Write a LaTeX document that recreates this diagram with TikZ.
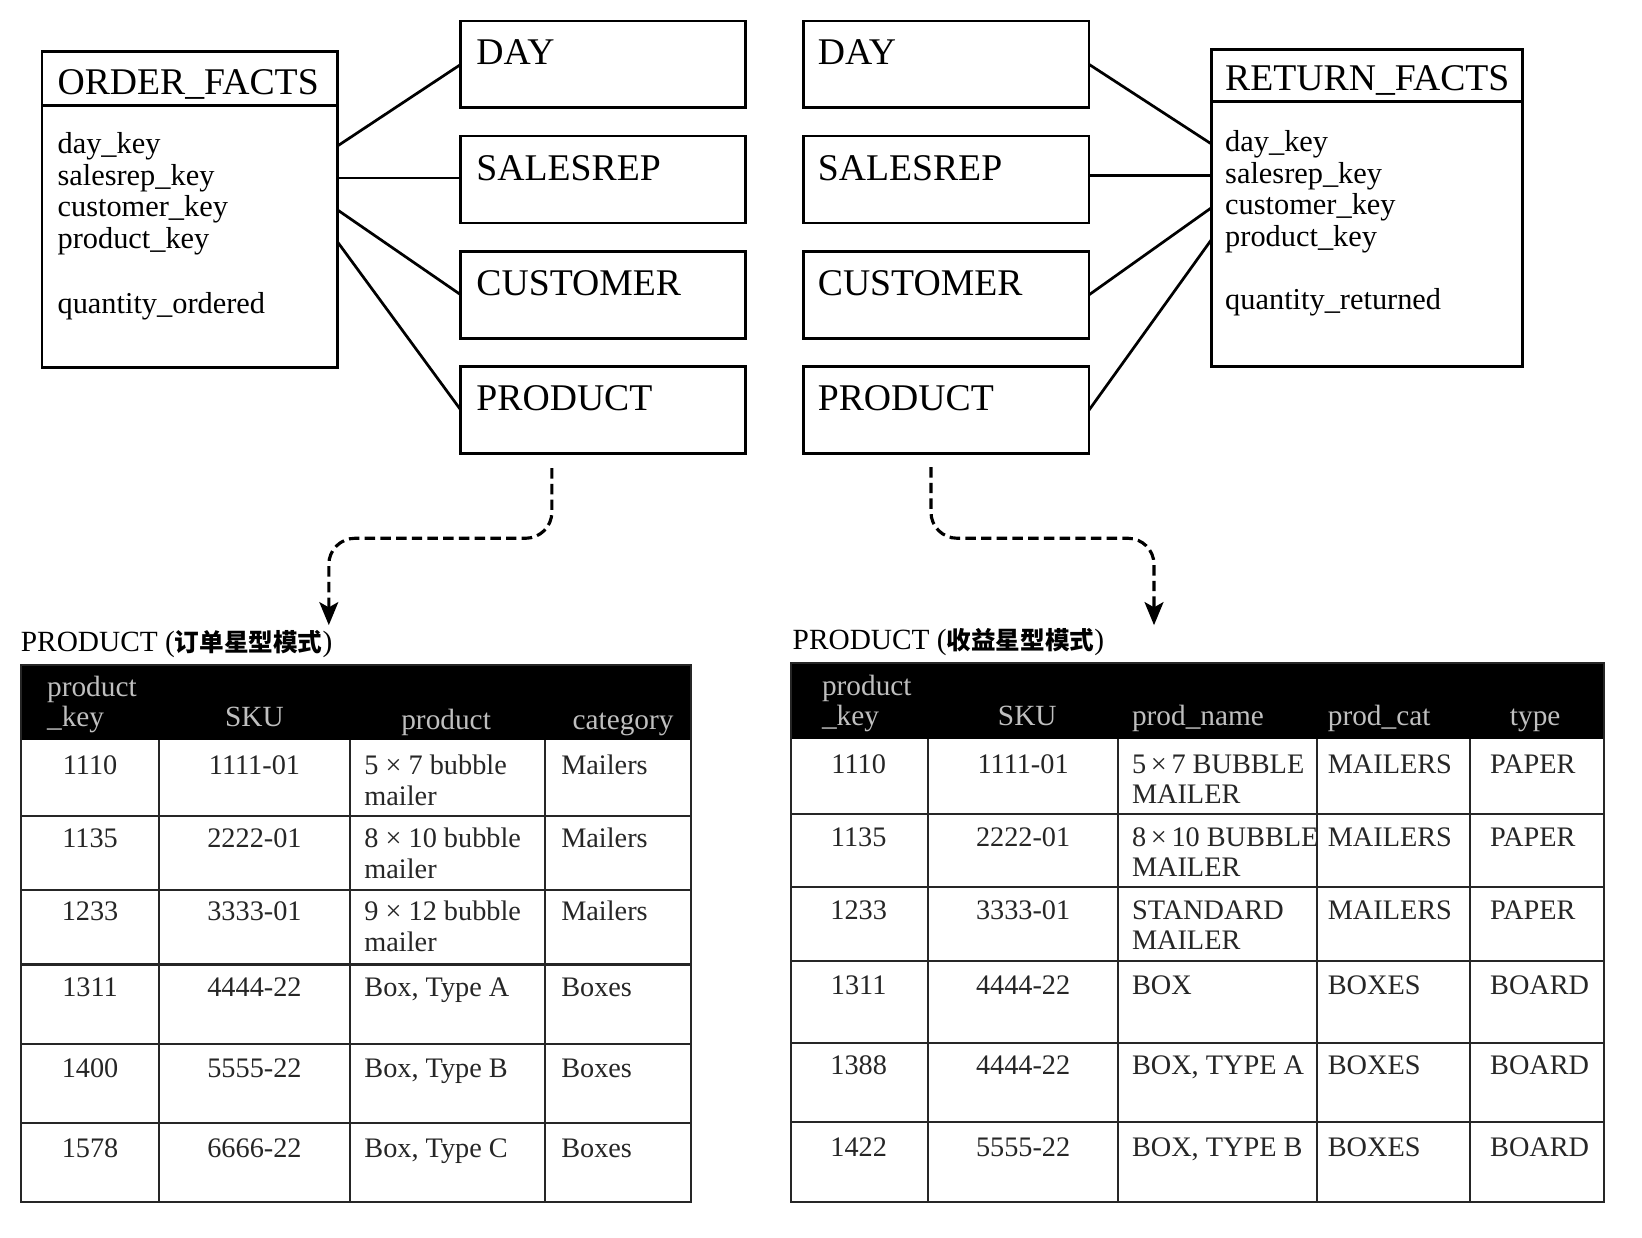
\documentclass[tikz,border=0pt]{standalone}
\usepackage{fontspec}
\setmainfont{Liberation Serif}
\newfontfamily\cjk{Noto Sans CJK SC}
\usetikzlibrary{arrows.meta}
\begin{document}
\begin{tikzpicture}[x=1pt,y=-1pt,
  dimbox/.style={draw=black, line width=2.6pt, inner sep=0pt, outer sep=0pt, anchor=north west, minimum width=272pt, minimum height=83pt},
  factbox/.style={draw=black, line width=2.6pt, inner sep=0pt, outer sep=0pt, anchor=north west},
  link/.style={line width=2.6pt},
  boxtitle/.style={font=\fontsize{36}{40}\selectfont, inner sep=0pt, outer sep=0pt},
  field/.style={font=\fontsize{29}{32}\selectfont, inner sep=0pt, outer sep=0pt},
  cell/.style={font=\fontsize{27}{30}\selectfont, inner sep=0pt, outer sep=0pt, text=black!85},
  head/.style={font=\fontsize{28}{30}\selectfont, inner sep=0pt, outer sep=0pt, text=black!25},
  ttl/.style={font=\fontsize{28}{30}\selectfont, inner sep=0pt, outer sep=0pt},
  grid/.style={line width=2pt, draw=black!85},
  dasharrow/.style={line width=3pt, dash pattern=on 10pt off 5pt, rounded corners=25pt, -{Stealth[length=22pt,width=18pt,inset=5pt]}}
]
\fill[white] (0,0) rectangle (1568,1182);
\useasboundingbox (0,0) rectangle (1568,1182);

% ---------------- left star ----------------
\node[factbox, minimum width=282pt, minimum height=302pt] (of) at (40,49) {};
\draw[link] ([shift={(0,52)}]of.north west) -- ([shift={(0,52)}]of.north east);
\node[boxtitle, anchor=base west] (oft) at ([shift={(15,41)}]of.north west) {ORDER\_FACTS};
\foreach \t [count=\i] in {day\_key, salesrep\_key, customer\_key, product\_key}
  \node[field, anchor=base west] (of\i) at ([shift={(15,67.2+30.33*\i)}]of.north west) {\t};
\node[field, anchor=base west] (of5) at ([shift={(15,250)}]of.north west) {quantity\_ordered};

\foreach \n/\t [count=\i from 0] in {dayL/DAY, srL/SALESREP, cuL/CUSTOMER, prL/PRODUCT}{
  \node[dimbox] (\n) at (440,20+110*\i) {};
  \node[boxtitle, anchor=base west] (\n-t) at ([shift={(15,42)}]\n.north west) {\t};
}
\draw[link] (of.east |- of1) -- (dayL.west);
\draw[link] (of.east |- of2) -- (srL.west |- of2);
\draw[link] (of.east |- of3) -- (cuL.west);
\draw[link] (of.east |- of4) -- (prL.west);

% ---------------- right star ----------------
\node[factbox, minimum width=297pt, minimum height=303pt] (rf) at (1157,47) {};
\draw[link] ([shift={(0,50)}]rf.north west) -- ([shift={(0,50)}]rf.north east);
\node[boxtitle, anchor=base west] (rft) at ([shift={(13,39)}]rf.north west) {RETURN\_FACTS};
\foreach \t [count=\i] in {day\_key, salesrep\_key, customer\_key, product\_key}
  \node[field, anchor=base west] (rf\i) at ([shift={(13,67.2+30.33*\i)}]rf.north west) {\t};
\node[field, anchor=base west] (rf5) at ([shift={(13,249)}]rf.north west) {quantity\_returned};

\foreach \n/\t [count=\i from 0] in {dayR/DAY, srR/SALESREP, cuR/CUSTOMER, prR/PRODUCT}{
  \node[dimbox, minimum width=273pt] (\n) at (767,20+110*\i) {};
  \node[boxtitle, anchor=base west] (\n-t) at ([shift={(14,42)}]\n.north west) {\t};
}
\draw[link] (dayR.east) -- (rf.west |- rf1);
\draw[link] (srR.east |- rf2) -- (rf.west |- rf2);
\draw[link] (cuR.east) -- (rf.west |- rf3);
\draw[link] (prR.east) -- (rf.west |- rf4);

% ---------------- dashed arrows ----------------
\coordinate (la0) at (527,447);
\coordinate (la1) at (314,597);
\draw[dasharrow] (la0) -- (la0 |- 0,514) -- (la1 |- 0,514) -- (la1);
\coordinate (ra0) at (889,446);
\coordinate (ra1) at (1102,597);
\draw[dasharrow] (ra0) -- (ra0 |- 0,514) -- (ra1 |- 0,514) -- (ra1);

% ---------------- left table ----------------
\node[ttl, anchor=base west] (lt) at (20,622) {PRODUCT ({\cjk\bfseries\fontsize{23.5}{26}\selectfont 订单星型模式})};
\fill[black] (20,635) rectangle (660,707);
\draw[grid] (20,635) rectangle (660,1148);
\foreach \y in {779,850,921,997,1072} \draw[grid] (20,\y) -- (660,\y);
\foreach \x in {152,334,520} \draw[grid] (\x,707) -- (\x,1148);
\node[head, anchor=base west] (lh1a) at (45,665) {product};
\node[head, anchor=base west] (lh1b) at (45,694) {\_key};
\node[head, anchor=base] (lh2) at (243,693.5) {SKU};
\node[head, anchor=base] (lh3) at (426,697) {product};
\node[head, anchor=base] (lh4) at (595,697) {category};
\foreach \k/\s/\p/\c/\b [count=\i] in {
  1110/1111-01/{5 × 7 bubble}/Mailers/740,
  1135/2222-01/{8 × 10 bubble}/Mailers/809,
  1233/3333-01/{9 × 12 bubble}/Mailers/879,
  1311/4444-22/{Box, Type A}/Boxes/952,
  1400/5555-22/{Box, Type B}/Boxes/1029,
  1578/6666-22/{Box, Type C}/Boxes/1105}{
  \node[cell, anchor=base] (lk\i) at (86,\b) {\k};
  \node[cell, anchor=base] (ls\i) at (243,\b) {\s};
  \node[cell, anchor=base west] (lp\i) at (348,\b) {\p};
  \node[cell, anchor=base west] (lc\i) at (536,\b) {\c};
}
\foreach \b [count=\i] in {769,839,909}
  \node[cell, anchor=base west] (lq\i) at (348,\b) {mailer};

% ---------------- right table ----------------
\node[ttl, anchor=base west] (rt) at (757,620.5) {PRODUCT ({\cjk\bfseries\fontsize{23.5}{26}\selectfont 收益星型模式})};
\fill[black] (755,633) rectangle (1532,706);
\draw[grid] (755,633) rectangle (1532,1148);
\foreach \y in {777,847,918,996,1071} \draw[grid] (755,\y) -- (1532,\y);
\foreach \x in {886,1068,1258,1404} \draw[grid] (\x,706) -- (\x,1148);
\node[head, anchor=base west] (rh1a) at (785,664) {product};
\node[head, anchor=base west] (rh1b) at (785,692.6) {\_key};
\node[head, anchor=base] (rh2) at (981,692.6) {SKU};
\node[head, anchor=base west] (rh3) at (1081,692.6) {prod\_name};
\node[head, anchor=base west] (rh4) at (1268,692.6) {prod\_cat};
\node[head, anchor=base] (rh5) at (1466,692.6) {type};
\foreach \k/\s/\p/\c/\ty/\b [count=\i] in {
  1110/1111-01/{5\,×\,7 BUBBLE}/MAILERS/PAPER/738.5,
  1135/2222-01/{8\,×\,10 BUBBLE}/MAILERS/PAPER/808,
  1233/3333-01/{STANDARD}/MAILERS/PAPER/878,
  1311/4444-22/{BOX}/BOXES/BOARD/950,
  1388/4444-22/{BOX, TYPE A}/BOXES/BOARD/1026.5,
  1422/5555-22/{BOX, TYPE B}/BOXES/BOARD/1104}{
  \node[cell, anchor=base] (rk\i) at (820,\b) {\k};
  \node[cell, anchor=base] (rs\i) at (977,\b) {\s};
  \node[cell, anchor=base west] (rp\i) at (1081,\b) {\p};
  \node[cell, anchor=base west] (rc\i) at (1268,\b) {\c};
  \node[cell, anchor=base west] (ry\i) at (1423,\b) {\ty};
}
\foreach \b [count=\i] in {767,837,907}
  \node[cell, anchor=base west] (rq\i) at (1081,\b) {MAILER};
\end{tikzpicture}
\end{document}
